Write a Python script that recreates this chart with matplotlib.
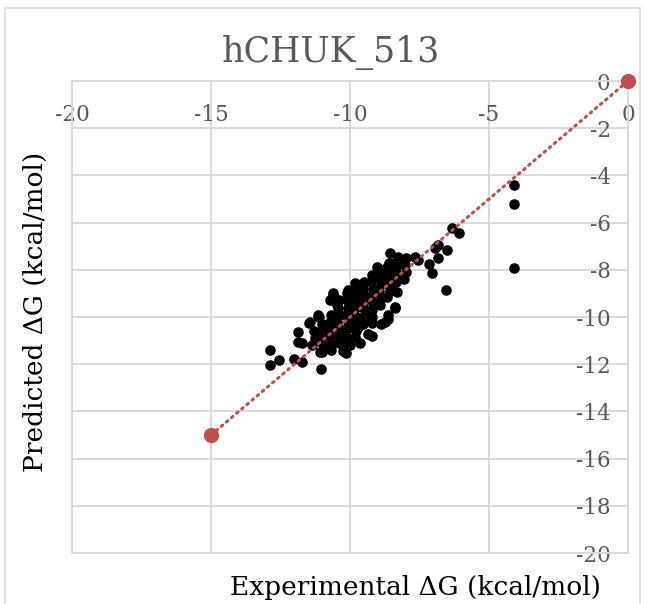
import matplotlib
matplotlib.use("Agg")
import matplotlib.pyplot as plt
from matplotlib.patches import Rectangle

plt.rcParams['font.family'] = ['DejaVu Serif']

title = "hCHUK_513"
x_label = "Experimental \u0394G (kcal/mol)"
y_label = "Predicted \u0394G (kcal/mol)"

x_ticks = [-20, -15, -10, -5, 0]
y_ticks = [0, -2, -4, -6, -8, -10, -12, -14, -16, -18, -20]

# reference line (ideal agreement) endpoints
ref_x = [-15, 0]
ref_y = [-15, 0]

# experimental vs predicted binding free energies
exp_dg = [
    -4.1, -4.1, -4.1, -6.55, -6.33, -6.08, -6.51, -6.83, -6.94, -6.83,
    -7.16, -7.05, -7.66, -7.55, -8.56, -8.27, -8.67, -8.38, -8.2, -8.81,
    -8.56, -8.67, -8.38, -12.88, -12.88, -12.55, -11.87, -11.87, -11.73, -12.01,
    -11.73, -11.04, -11.47, -11.12, -11.15, -11.08, -10.79, -10.14, -10.65, -10.43,
    -10.07, -9.82, -9.71, -9.57, -9.03, -8.49, -8.74, -9.17, -9.82, -10.07,
    -10.61, -8.31, -8.38, -8.63, -8.74, -9.21, -9.64, -10.72, -10.47, -10.61,
    -11.44, -11.15, -9.2, -10.0, -9.64, -10.25, -8.63, -8.9, -9.35,
    # dense core
    -11.3, -11.25, -11.35, -11.0, -10.95, -11.05, -10.98, -11.02,
    -10.7, -10.72, -10.68, -10.75, -10.66, -10.7,
    -10.4, -10.42, -10.38, -10.45, -10.36, -10.41, -10.39,
    -10.1, -10.12, -10.08, -10.15, -10.06, -10.11, -10.13, -10.09,
    -9.8, -9.83, -9.77, -9.85, -9.79, -9.82, -9.78,
    -9.5, -9.52, -9.48, -9.55, -9.47, -9.51, -9.53,
    -9.2, -9.23, -9.18, -9.25, -9.17, -9.21, -9.22,
    -8.9, -8.93, -8.88, -8.95, -8.87, -8.91,
    -8.6, -8.62, -8.58, -8.65, -8.57,
    -8.3, -8.33, -8.28, -8.35,
    -8.0, -8.02, -7.98, -8.05,
]
pred_dg = [
    -4.41, -5.2, -7.92, -8.86, -6.23, -6.44, -7.16, -6.95, -7.08, -7.5,
    -7.75, -8.14, -7.46, -7.58, -7.29, -7.46, -7.88, -8.0, -8.3, -8.43,
    -8.73, -9.15, -9.58, -11.4, -12.03, -11.82, -10.64, -11.06, -11.1, -11.78,
    -11.9, -12.2, -10.25, -10.0, -10.68, -11.48, -11.31, -11.53, -10.97, -10.85,
    -11.06, -10.85, -10.42, -9.58, -7.88, -7.92, -8.22, -8.3, -8.56, -8.86,
    -8.98, -8.94, -9.62, -9.92, -10.21, -10.25, -10.04, -9.28, -9.49, -9.07,
    -10.21, -9.92, -10.8, -11.2, -11.1, -11.45, -10.1, -10.3, -10.7,
    # dense core
    -10.6, -10.9, -11.2, -10.3, -10.6, -10.9, -11.2, -11.5,
    -9.9, -10.2, -10.5, -10.8, -11.1, -11.4,
    -9.3, -9.6, -9.9, -10.2, -10.5, -10.8, -11.1,
    -9.0, -9.3, -9.6, -9.9, -10.2, -10.5, -10.8, -11.1,
    -8.8, -9.1, -9.4, -9.7, -10.0, -10.3, -10.6,
    -8.5, -8.8, -9.1, -9.4, -9.7, -10.0, -10.3,
    -8.2, -8.5, -8.8, -9.1, -9.4, -9.7, -10.0,
    -8.0, -8.3, -8.6, -8.9, -9.2, -9.5,
    -7.7, -8.0, -8.3, -8.6, -8.9,
    -7.6, -7.9, -8.2, -8.5,
    -7.5, -7.8, -8.1, -8.4,
]

grid_c = '#D9D9D9'
text_c = '#595959'
red = '#C0504D'

fig = plt.figure(figsize=(6.49, 6.04), dpi=100)
fig.patch.set_facecolor('white')
fig.patches.append(Rectangle((5 / 649, -0.05), 635 / 649, 1 - 8 / 604 + 0.05,
                             transform=fig.transFigure, fill=False,
                             edgecolor=grid_c, linewidth=1.2))

ax = fig.add_axes([72 / 649, 51 / 604, 556 / 649, 472 / 604])
ax.set_xlim(-20, 0)
ax.set_ylim(-20, 0)
ax.set_xticks(x_ticks)
ax.set_yticks(y_ticks)
ax.set_xticklabels([str(v) for v in x_ticks])
ax.set_yticklabels([str(v) for v in y_ticks])
ax.grid(True, color=grid_c, linewidth=1.4)
ax.set_axisbelow(True)
for sp in ax.spines.values():
    sp.set_color(grid_c)
    sp.set_linewidth(1.4)

ax.tick_params(axis='x', bottom=False, top=False, labelbottom=False, labeltop=True,
               labelsize=15.5, labelcolor=text_c, pad=-36)
ax.tick_params(axis='y', left=False, right=False, labelleft=False, labelright=True,
               labelsize=15.5, labelcolor=text_c, pad=-16)
for lab in ax.get_yticklabels():
    lab.set_horizontalalignment('right')

ax.scatter(exp_dg, pred_dg, s=58, color='black', zorder=3, linewidths=0)
ax.plot(ref_x, ref_y, color=red, linestyle=(0, (0.6, 1.6)), linewidth=2.2,
        dash_capstyle='round', zorder=4)
ax.plot(ref_x, ref_y, linestyle='none', marker='o', markersize=10,
        color=red, zorder=5, clip_on=False)

fig.text(331 / 649, 1 - 52 / 604, title, ha='center', va='center',
         fontsize=25, color=text_c)
fig.text(416 / 649, 1 - 588 / 604, x_label, ha='center', va='center',
         fontsize=19, color='black')
fig.text(35 / 649, 1 - 312 / 604, y_label, ha='center', va='center',
         rotation=90, fontsize=19, color='black')

fig.savefig('out.png', dpi=100)
